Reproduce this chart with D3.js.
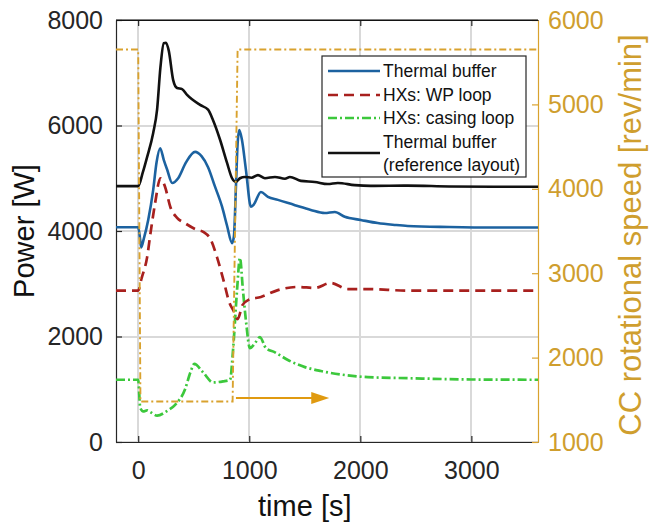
<!DOCTYPE html>
<html>
<head>
<meta charset="utf-8">
<script src="https://cdn.jsdelivr.net/npm/d3@7"></script>
<style>
  body { margin: 0; background: #fff; }
  svg { font-family: "Liberation Sans", Arial, sans-serif; }
</style>
</head>
<body>
<svg width="654" height="528"></svg>
<script>
'use strict';

// time [s], power [W]
var thermalBuffer = [[-200,4070],[0,4070],[18,3830],[27,3690],[50,3850],[90,4210],[135,4780],[165,5300],[198,5570],[230,5350],[261,5160],[306,4910],[360,5000],[430,5300],[512,5500],[570,5420],[629,5210],[690,4850],[755,4460],[800,4100],[845,3770],[862,3900],[880,4840],[895,5650],[910,5915],[934,5730],[970,5160],[1015,4460],[1040,4500],[1105,4740],[1168,4645],[1258,4590],[1411,4490],[1554,4400],[1680,4340],[1770,4360],[1860,4270],[2004,4210],[2156,4150],[2309,4115],[2426,4095],[2800,4075],[3200,4065],[3600,4065]];
var wpLoop = [[-200,2870],[0,2870],[30,3100],[80,3500],[110,3950],[150,4500],[200,5000],[240,4850],[290,4450],[350,4250],[420,4150],[520,4030],[590,3980],[650,3850],[710,3500],[770,3050],[820,2650],[860,2480],[895,2330],[940,2600],[990,2690],[1105,2750],[1258,2880],[1438,2940],[1590,2920],[1734,3015],[1887,2900],[2067,2900],[2426,2870],[3600,2870]];
var casingLoop = [[-200,1180],[0,1180],[18,650],[45,580],[80,600],[108,570],[170,500],[261,590],[330,700],[422,1000],[470,1320],[505,1480],[584,1320],[674,1130],[764,1150],[827,1180],[854,1745],[890,2880],[916,3490],[943,2880],[970,2300],[1006,1780],[1050,1870],[1096,1990],[1150,1780],[1231,1700],[1348,1555],[1501,1420],[1645,1345],[1860,1270],[2067,1230],[2426,1210],[3000,1185],[3600,1180]];
var thermalBufferRef = [[-200,4850],[0,4850],[40,5100],[80,5400],[135,5860],[170,6300],[200,7100],[230,7560],[250,7570],[275,7420],[315,6860],[350,6710],[395,6690],[440,6580],[557,6390],[629,6300],[674,6100],[737,5730],[800,5290],[845,5000],[880,4930],[916,5000],[961,5025],[1020,5010],[1078,5060],[1141,5000],[1231,5025],[1321,4990],[1366,5025],[1465,4950],[1590,4930],[1707,4890],[1797,4910],[1950,4870],[2093,4855],[2425,4860],[2800,4845],[3200,4840],[3600,4840]];
// time [s], CC rotational speed [rev/min]
var ccSpeed = [[-200,5650],[0,5650],[20,1480],[850,1480],[895,5650],[3600,5650]];
var arrowFrom = [880,1520], arrowTo = [1720,1520];

var xTicks = [0,1000,2000,3000],
    yTicks = [0,2000,4000,6000,8000],
    y2Ticks = [1000,2000,3000,4000,5000,6000];

var legendLabels = ["Thermal buffer","HXs: WP loop","HXs: casing loop","Thermal buffer","(reference layout)"];

var svg = d3.select("svg"),
    margin = {top: 20, right: 116, bottom: 86, left: 116},
    width = +svg.attr("width") - margin.left - margin.right,
    height = +svg.attr("height") - margin.top - margin.bottom;

var gold = "#d9a22e", goldText = "#cf9e2e";

var x = d3.scaleLinear().domain([-200,3600]).range([0,width]),
    y = d3.scaleLinear().domain([0,8000]).range([height,0]),
    y2 = d3.scaleLinear().domain([1000,6000]).range([height,0]);

var g = svg.append("g")
  .attr("transform", "translate(" + margin.left + "," + margin.top + ")");

g.append("clipPath").attr("id","clip")
  .append("rect").attr("width", width).attr("height", height);

// grid as thin rects so they survive antialiasing
g.selectAll("rect.gx").data(xTicks).enter().append("rect")
  .attr("class", "gx")
  .attr("x", function(d) { return Math.round(x(d)) - 1; })
  .attr("y", 0).attr("width", 2).attr("height", height)
  .attr("fill", "#d9d9d9");
g.selectAll("rect.gy").data(yTicks).enter().append("rect")
  .attr("class", "gy")
  .attr("y", function(d) { return Math.round(y(d)) - 1; })
  .attr("x", 0).attr("height", 2).attr("width", width)
  .attr("fill", "#d9d9d9");

// axes
var fmt = d3.format("d");
var xAxis = g.append("g")
  .attr("transform", "translate(0," + height + ")")
  .call(d3.axisBottom(x).tickValues(xTicks).tickFormat(fmt).tickSizeInner(-6).tickSizeOuter(0).tickPadding(14));
var yAxis = g.append("g")
  .call(d3.axisLeft(y).tickValues(yTicks).tickFormat(fmt).tickSizeInner(-6).tickSizeOuter(0).tickPadding(13));
var y2Axis = g.append("g")
  .attr("transform", "translate(" + width + ",0)")
  .call(d3.axisRight(y2).tickValues(y2Ticks).tickFormat(fmt).tickSizeInner(-6).tickSizeOuter(0).tickPadding(10));
g.append("g")
  .call(d3.axisTop(x).tickValues(xTicks).tickSizeInner(-6).tickSizeOuter(0).tickFormat(""));

[xAxis, yAxis].forEach(function(a) {
  a.selectAll("path, line").attr("stroke", "#262626").attr("stroke-width", 1.2);
  a.selectAll("text").attr("fill", "#262626").style("font-size", "25px");
});
xAxis.selectAll("text").attr("dy", "0.9em");
y2Axis.selectAll("path, line").attr("stroke", gold).attr("stroke-width", 1.2);
y2Axis.selectAll("text").attr("fill", goldText).style("font-size", "25px");
g.selectAll("path.domain").attr("stroke-width", 1.2);
g.append("line").attr("x1", 0).attr("x2", width).attr("y1", 0).attr("y2", 0)
  .attr("stroke", "#262626").attr("stroke-width", 1.2);

// series
var line = d3.line()
  .x(function(d) { return x(d[0]); })
  .y(function(d) { return y(d[1]); })
  .curve(d3.curveMonotoneX);
var line2 = d3.line()
  .x(function(d) { return x(d[0]); })
  .y(function(d) { return y2(d[1]); });

var plot = g.append("g").attr("clip-path", "url(#clip)");

var series = [
  {data: casingLoop, color: "#3cc83c", dash: "9,3,2,3", w: 2.7},
  {data: wpLoop, color: "#a8201e", dash: "10,6", w: 2.7},
  {data: thermalBuffer, color: "#1c62a0", dash: null, w: 2.6},
  {data: thermalBufferRef, color: "#111", dash: null, w: 2.6}
];
series.forEach(function(s) {
  plot.append("path").datum(s.data)
    .attr("d", line).attr("fill", "none")
    .attr("stroke", s.color).attr("stroke-width", s.w)
    .attr("stroke-dasharray", s.dash);
});

plot.append("path").datum(ccSpeed)
  .attr("d", line2).attr("fill", "none")
  .attr("stroke", gold).attr("stroke-width", 1.9)
  .attr("stroke-dasharray", "7,3,2,3");

// arrow
var ax1 = x(arrowFrom[0]), ax2 = x(arrowTo[0]), ay = y2(arrowFrom[1]);
g.append("line").attr("x1", ax1).attr("x2", ax2 - 14).attr("y1", ay).attr("y2", ay)
  .attr("stroke", "#e09a10").attr("stroke-width", 2);
g.append("path")
  .attr("d", "M" + ax2 + "," + ay + "L" + (ax2 - 18) + "," + (ay - 6) + "L" + (ax2 - 18) + "," + (ay + 6) + "Z")
  .attr("fill", "#e09a10");

// axis labels
svg.append("text")
  .attr("transform", "translate(34," + (margin.top + height / 2) + ") rotate(-90)")
  .attr("text-anchor", "middle").attr("fill", "#111").style("font-size", "29px")
  .text("Power [W]");
svg.append("text")
  .attr("transform", "translate(641," + (margin.top + height / 2 + 4) + ") rotate(-90)")
  .attr("text-anchor", "middle").attr("fill", goldText).style("font-size", "31px")
  .text("CC rotational speed [rev/min]");
svg.append("text")
  .attr("x", margin.left + x(1500)).attr("y", 516)
  .attr("text-anchor", "middle").attr("fill", "#111").style("font-size", "29px")
  .text("time [s]");

// legend
var lg = svg.append("g").attr("transform", "translate(322,56)");
lg.append("rect").attr("width", 204).attr("height", 121)
  .attr("fill", "#fff").attr("stroke", "#262626").attr("stroke-width", 1.2);
var legendRows = [
  {label: legendLabels[0], cy: 15, s: series[2]},
  {label: legendLabels[1], cy: 39, s: series[1]},
  {label: legendLabels[2], cy: 62, s: series[0]},
  {label: legendLabels[3], cy: 86, s: series[3], ly: 97},
  {label: legendLabels[4], cy: 109, s: null}
];
legendRows.forEach(function(r) {
  if (r.s) {
    var ly = r.ly || r.cy;
    lg.append("line").attr("x1", 6).attr("x2", 58).attr("y1", ly).attr("y2", ly)
      .attr("stroke", r.s.color).attr("stroke-width", r.s.w)
      .attr("stroke-dasharray", r.s.dash);
  }
  lg.append("text").attr("x", 61).attr("y", r.cy).attr("dy", "0.36em")
    .attr("fill", "#111").style("font-size", "17.5px").text(r.label);
});
</script>
</body>
</html>
